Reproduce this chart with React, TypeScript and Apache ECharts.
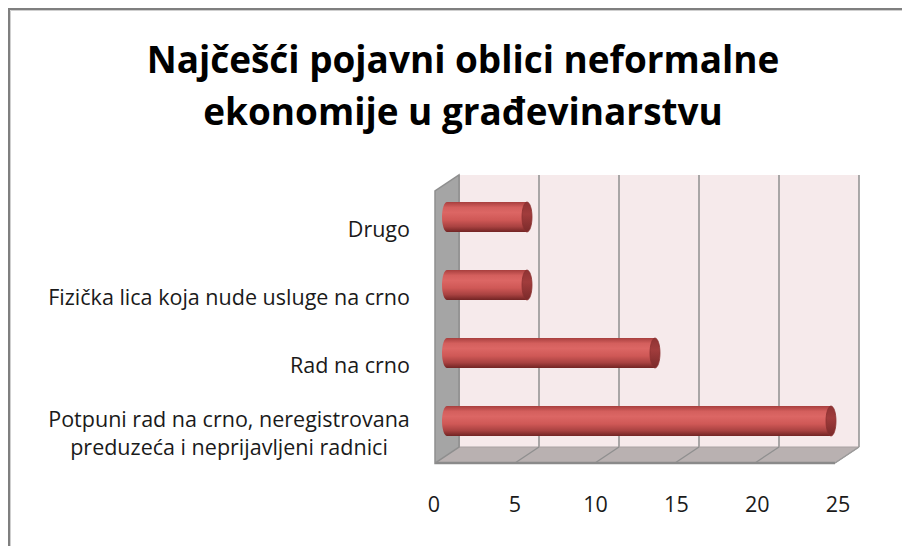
import React, { useEffect, useRef } from "react";
import * as echarts from "echarts";

const categories = [
  "Potpuni rad na crno, neregistrovana\npreduzeća i neprijavljeni radnici",
  "Rad na crno",
  "Fizička lica koja nude usluge na crno",
  "Drugo",
];
const values = [24, 13, 5, 5];
const xTicks = [0, 5, 10, 15, 20, 25];
const titleText = "Najčešći pojavni oblici neformalne\nekonomije u građevinarstvu";

const DX = -24;
const DY = 16;
const FONT = "Open Sans";

function measure(text: string, font: string): number {
  const c = document.createElement("canvas").getContext("2d");
  if (!c) return 0;
  c.font = font;
  return c.measureText(text).width;
}

export default function App() {
  const ref = useRef<HTMLDivElement>(null);
  useEffect(() => {
    document.body.style.margin = "0";
    if (!ref.current) return;
    const chart = echarts.init(ref.current, null, { renderer: "svg" });

    const tW = measure(titleText.split("\n")[0], `bold 36px "${FONT}"`);
    const titleSize = tW > 0 ? Math.min(44, Math.max(28, (36 * 633) / tW)) : 35;
    const lW = measure(categories[2], `20px "${FONT}"`);
    const LABEL_SIZE = lW > 0 ? Math.min(23, Math.max(16, (20 * 362) / lW)) : 19;
    const multiW = Math.ceil(
      measure(categories[0].split("\n")[0], `${LABEL_SIZE}px "${FONT}"`)
    ) || 368;

    const bodyGrad = () =>
      new echarts.graphic.LinearGradient(0, 0, 0, 1, [
        { offset: 0, color: "#a83f3e" },
        { offset: 0.18, color: "#d45f5d" },
        { offset: 0.35, color: "#dc6664" },
        { offset: 0.6, color: "#cf5856" },
        { offset: 0.82, color: "#a94241" },
        { offset: 1, color: "#722424" },
      ]);
    const capGrad = () =>
      new echarts.graphic.LinearGradient(0, 0, 0, 1, [
        { offset: 0, color: "#8e3434" },
        { offset: 0.4, color: "#a13c3c" },
        { offset: 1, color: "#7a2a2a" },
      ]);

    const option: any = {
      animation: false,
      backgroundColor: "#ffffff",
      title: {
        text: titleText,
        left: 458,
        top: 28,
        textAlign: "center",
        textStyle: {
          fontFamily: FONT,
          fontWeight: "bold",
          fontSize: titleSize,
          lineHeight: 52,
          color: "#000000",
        },
      },
      graphic: [
        {
          type: "rect",
          silent: true,
          shape: { x: 9, y: 9, width: 1200, height: 1200 },
          style: { fill: "none", stroke: "#7f7f7f", lineWidth: 2 },
        },
        {
          type: "rect",
          silent: true,
          shape: { x: 10.5, y: 10.5, width: 1200, height: 1200 },
          style: { fill: "none", stroke: "#cfcfcf", lineWidth: 1 },
        },
      ],
      grid: [
        {
          left: 459,
          top: 175,
          right: 43,
          bottom: 99,
          show: true,
          backgroundColor: "#f6eaeb",
          borderWidth: 0,
        },
        {
          left: 434,
          top: 195,
          right: 64,
          bottom: 80,
          show: false,
        },
      ],
      xAxis: [
        {
          gridIndex: 0,
          type: "value",
          min: 0,
          max: 25,
          interval: 5,
          axisLine: { show: false },
          axisTick: { show: false },
          axisLabel: { show: false },
          splitLine: { show: true, lineStyle: { color: "#8f8f8f", width: 1.5 } },
        },
        {
          gridIndex: 1,
          type: "value",
          min: 0,
          max: 25,
          interval: 5,
          axisLine: { show: false },
          axisTick: { show: false },
          splitLine: { show: false },
          axisLabel: {
            margin: 26,
            fontFamily: FONT,
            fontSize: LABEL_SIZE,
            color: "#1a1a1a",
            formatter: (v: number) => (xTicks.includes(v) ? String(v) : ""),
          },
        },
      ],
      yAxis: [
        {
          gridIndex: 0,
          type: "category",
          data: categories,
          axisLine: { show: false },
          axisTick: { show: false },
          axisLabel: { show: false },
          splitLine: { show: false },
        },
        {
          gridIndex: 1,
          type: "category",
          data: categories,
          axisLine: { show: false },
          axisTick: { show: false },
          splitLine: { show: false },
          axisLabel: {
            margin: 24,
            fontFamily: FONT,
            fontSize: LABEL_SIZE,
            color: "#1a1a1a",
            formatter: (v: string) =>
              v.includes("\n")
                ? v
                    .split("\n")
                    .map((l) => `{c|${l}}`)
                    .join("\n")
                : v,
            rich: {
              c: {
                width: multiW,
                align: "center",
                fontFamily: FONT,
                fontSize: LABEL_SIZE,
                color: "#1a1a1a",
                lineHeight: 28,
              },
            },
          },
        },
      ],
      series: [
        {
          type: "custom",
          xAxisIndex: 0,
          yAxisIndex: 0,
          silent: true,
          clip: false,
          z: 1,
          data: [[0, 0]],
          renderItem: (params: any, api: any) => {
            const cs = params.coordSys;
            const x0 = cs.x;
            const y0 = cs.y;
            const x1 = cs.x + cs.width;
            const y1 = cs.y + cs.height;
            const children: any[] = [];
            children.push({
              type: "polygon",
              shape: {
                points: [
                  [x0, y1],
                  [x1, y1],
                  [x1 + DX, y1 + DY],
                  [x0 + DX, y1 + DY],
                ],
              },
              style: { fill: "#b9b1b1", stroke: "#a9a2a2", lineWidth: 1 },
            });
            xTicks.slice(1, -1).forEach((t) => {
              const px = api.coord([t, 0])[0];
              children.push({
                type: "line",
                shape: { x1: px, y1: y1, x2: px + DX, y2: y1 + DY },
                style: { stroke: "#8f8f8f", lineWidth: 1.3 },
              });
            });
            children.push({
              type: "line",
              shape: { x1: x0 + DX, y1: y1 + DY, x2: x1 + DX, y2: y1 + DY },
              style: { stroke: "#8a8a8a", lineWidth: 2.5 },
            });
            children.push({
              type: "line",
              shape: { x1: x1, y1: y1, x2: x1 + DX, y2: y1 + DY },
              style: { stroke: "#9a9a9a", lineWidth: 1.5 },
            });
            children.push({
              type: "polygon",
              shape: {
                points: [
                  [x0, y0],
                  [x0, y1],
                  [x0 + DX, y1 + DY],
                  [x0 + DX, y0 + DY],
                ],
              },
              style: { fill: "#a5a5a5", stroke: "#8e8e8e", lineWidth: 1.5 },
            });
            return { type: "group", children };
          },
        },
        {
          type: "custom",
          xAxisIndex: 0,
          yAxisIndex: 0,
          silent: true,
          clip: false,
          z: 3,
          data: values.map((v, i) => [v, i]),
          renderItem: (params: any, api: any) => {
            const v = api.value(0);
            const c = api.value(1);
            const a = api.coord([0, c]);
            const b = api.coord([v, c]);
            const h = api.size([0, 1])[1] * 0.44;
            const cx0 = a[0] + DX / 2;
            const cx1 = b[0] + DX / 2;
            const cy = a[1] + DY / 2;
            const rx = 5;
            const ry = h / 2;
            return {
              type: "group",
              children: [
                {
                  type: "ellipse",
                  shape: { cx: cx0, cy, rx, ry },
                  style: { fill: bodyGrad() },
                },
                {
                  type: "rect",
                  shape: { x: cx0, y: cy - ry, width: cx1 - cx0, height: h },
                  style: { fill: bodyGrad() },
                },
                {
                  type: "ellipse",
                  shape: { cx: cx1, cy, rx, ry },
                  style: { fill: capGrad(), stroke: "#8a3030", lineWidth: 0.8 },
                },
              ],
            };
          },
        },
      ],
    };
    chart.setOption(option);
    return () => chart.dispose();
  }, []);
  return <div ref={ref} style={{ width: 902, height: 546 }} />;
}
